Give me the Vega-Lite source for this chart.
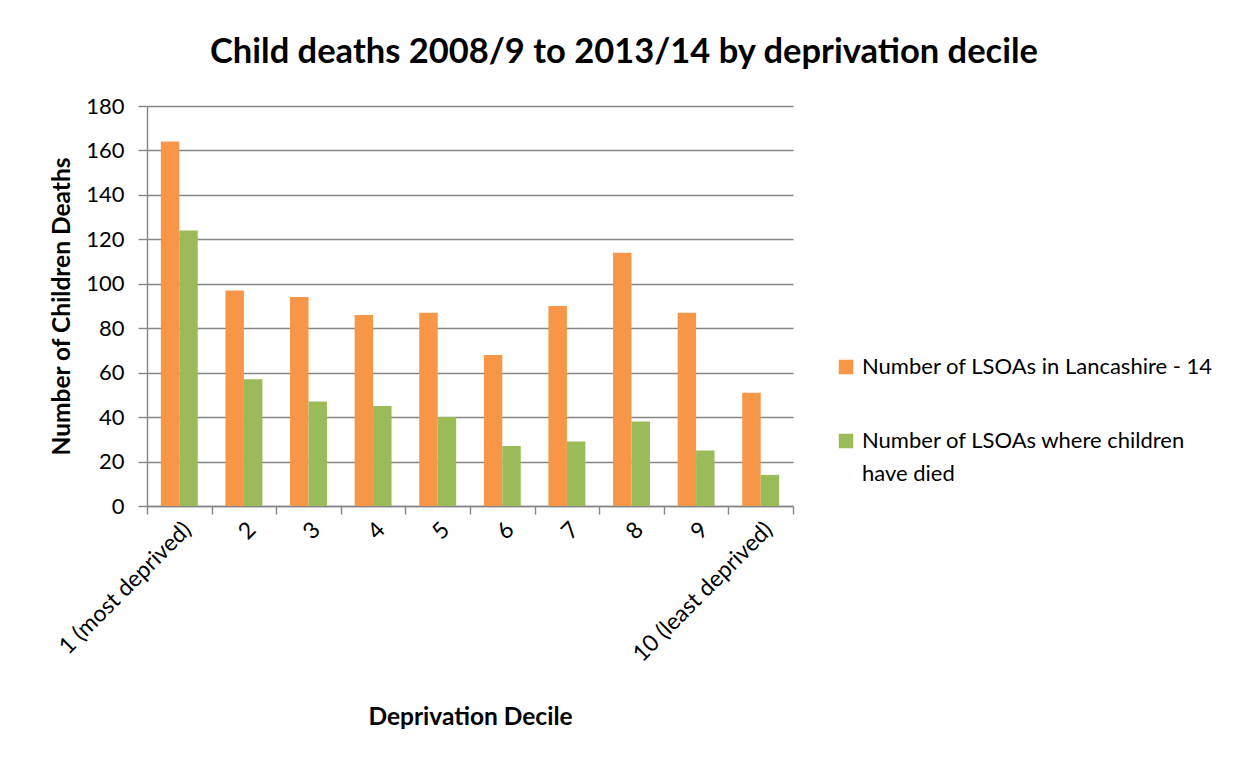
{
  "$schema": "https://vega.github.io/schema/vega-lite/v6.json",
  "width": 646,
  "height": 400,
  "autosize": "none",
  "padding": {"left": 147, "top": 106, "right": 442, "bottom": 254},
  "background": "white",
  "title": {
    "text": "Child deaths 2008/9 to 2013/14 by deprivation decile",
    "font": "Lato",
    "fontSize": 34.5,
    "fontWeight": "bold",
    "color": "black",
    "anchor": "middle",
    "dx": 154,
    "offset": 25
  },
  "data": {
    "values": [
      {"decile": "1 (most deprived)", "series": "Number of LSOAs in Lancashire - 14", "value": 164},
      {"decile": "1 (most deprived)", "series": "Number of LSOAs where children have died", "value": 124},
      {"decile": "2", "series": "Number of LSOAs in Lancashire - 14", "value": 97},
      {"decile": "2", "series": "Number of LSOAs where children have died", "value": 57},
      {"decile": "3", "series": "Number of LSOAs in Lancashire - 14", "value": 94},
      {"decile": "3", "series": "Number of LSOAs where children have died", "value": 47},
      {"decile": "4", "series": "Number of LSOAs in Lancashire - 14", "value": 86},
      {"decile": "4", "series": "Number of LSOAs where children have died", "value": 45},
      {"decile": "5", "series": "Number of LSOAs in Lancashire - 14", "value": 87},
      {"decile": "5", "series": "Number of LSOAs where children have died", "value": 40},
      {"decile": "6", "series": "Number of LSOAs in Lancashire - 14", "value": 68},
      {"decile": "6", "series": "Number of LSOAs where children have died", "value": 27},
      {"decile": "7", "series": "Number of LSOAs in Lancashire - 14", "value": 90},
      {"decile": "7", "series": "Number of LSOAs where children have died", "value": 29},
      {"decile": "8", "series": "Number of LSOAs in Lancashire - 14", "value": 114},
      {"decile": "8", "series": "Number of LSOAs where children have died", "value": 38},
      {"decile": "9", "series": "Number of LSOAs in Lancashire - 14", "value": 87},
      {"decile": "9", "series": "Number of LSOAs where children have died", "value": 25},
      {"decile": "10 (least deprived)", "series": "Number of LSOAs in Lancashire - 14", "value": 51},
      {"decile": "10 (least deprived)", "series": "Number of LSOAs where children have died", "value": 14}
    ]
  },
  "mark": {"type": "bar"},
  "encoding": {
    "x": {
      "field": "decile",
      "type": "nominal",
      "sort": ["1 (most deprived)", "2", "3", "4", "5", "6", "7", "8", "9", "10 (least deprived)"],
      "scale": {"paddingInner": 0, "paddingOuter": 0},
      "axis": {
        "title": "Deprivation Decile",
        "labelAngle": -45,
        "labelFontSize": 23,
        "labelLimit": 320,
        "tickBand": "extent",
        "tickSize": 8,
        "labelPadding": 4,
        "titlePadding": 39,
        "grid": false
      }
    },
    "xOffset": {
      "field": "series",
      "type": "nominal",
      "sort": ["Number of LSOAs in Lancashire - 14", "Number of LSOAs where children have died"],
      "scale": {"paddingInner": 0, "paddingOuter": 0.75}
    },
    "y": {
      "field": "value",
      "type": "quantitative",
      "scale": {"domain": [0, 180], "nice": false},
      "axis": {
        "title": "Number of Children Deaths",
        "values": [0, 20, 40, 60, 80, 100, 120, 140, 160, 180],
        "tickSize": 9,
        "labelPadding": 14,
        "titlePadding": 11,
        "grid": true
      }
    },
    "color": {
      "field": "series",
      "type": "nominal",
      "scale": {
        "domain": ["Number of LSOAs in Lancashire - 14", "Number of LSOAs where children have died"],
        "range": ["#F79646", "#9BBB59"]
      },
      "legend": {
        "title": null,
        "orient": "none",
        "legendX": 688,
        "legendY": 250,
        "symbolType": "square",
        "symbolSize": 210,
        "symbolStrokeWidth": 0,
        "labelFont": "Lato",
        "labelFontSize": 22,
        "labelColor": "black",
        "labelLimit": 400,
        "labelOffset": 5,
        "labelBaseline": "middle",
        "rowPadding": 52,
        "labelExpr": "datum.label == 'Number of LSOAs where children have died' ? ['Number of LSOAs where children', 'have died'] : datum.label",
        "encode": {
          "labels": {"update": {"lineHeight": {"value": 33}}}
        }
      }
    }
  },
  "config": {
    "view": {"stroke": null},
    "axis": {
      "domainColor": "#868686",
      "domainWidth": 1.4,
      "gridColor": "#868686",
      "gridWidth": 1.4,
      "tickColor": "#868686",
      "tickWidth": 1.4,
      "labelFont": "Lato",
      "labelFontSize": 22,
      "labelColor": "black",
      "titleFont": "Lato",
      "titleFontSize": 24.5,
      "titleFontWeight": "bold",
      "titleColor": "black"
    }
  }
}
